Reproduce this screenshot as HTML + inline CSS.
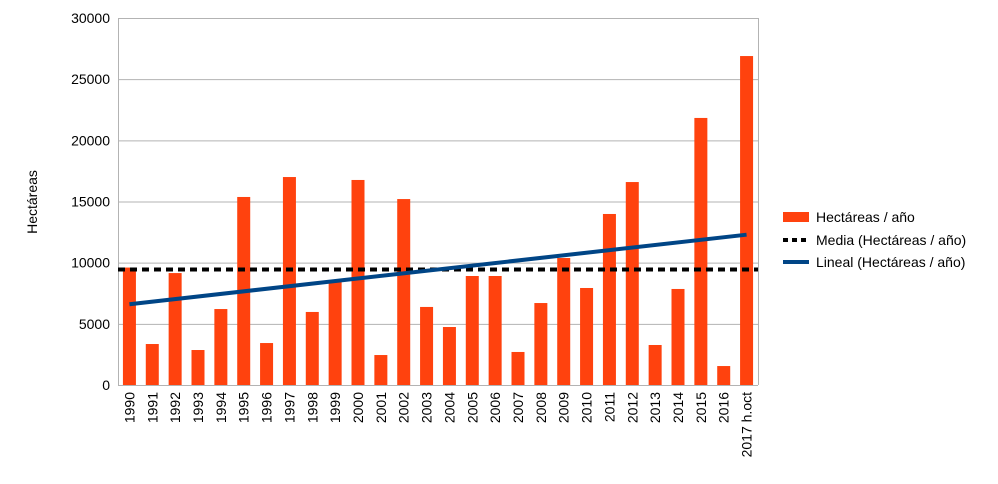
<!DOCTYPE html>
<html><head><meta charset="utf-8"><style>
body{margin:0;background:#fff;font-family:"Liberation Sans",sans-serif;}
svg text{font-family:"Liberation Sans",sans-serif;font-size:14px;fill:#000;}
</style></head><body>
<svg width="998" height="479" xmlns="http://www.w3.org/2000/svg">
<g id="grid"></g>
<g id="yticks"></g>
<g id="bars"></g>
<g id="xticks"></g>
<g id="lines"></g>
<text transform="translate(37,202) rotate(-90)" text-anchor="middle">Hectáreas</text>
<g>
<g><rect x="783" y="212" width="26" height="10" fill="#ff420e"/><text x="816" y="222">Hectáreas / año</text></g>
<g><line x1="783" y1="240" x2="809" y2="240" stroke="#000" stroke-width="4" stroke-dasharray="5,4"/><text x="816" y="245">Media (Hectáreas / año)</text></g>
<g><line x1="783" y1="262" x2="809" y2="262" stroke="#004586" stroke-width="4"/><text x="816" y="267">Lineal (Hectáreas / año)</text></g>
</g>
</svg>
<script>
const categories=["1990","1991","1992","1993","1994","1995","1996","1997","1998","1999","2000","2001","2002","2003","2004","2005","2006","2007","2008","2009","2010","2011","2012","2013","2014","2015","2016","2017 h.oct"];
const values=[9600,3350,9150,2860,6210,15370,3430,17000,5970,8500,16760,2450,15200,6380,4740,8910,8910,2700,6700,10380,7930,13980,16590,3270,7850,21830,1550,26890];
const yTicks=[0,5000,10000,15000,20000,25000,30000];
const NS="http://www.w3.org/2000/svg";
const X0=118,X1=758,Y0=385,Y1=18,YMAX=30000;
const bw=(X1-X0)/categories.length;
function y(v){return Y0-(v/YMAX)*(Y0-Y1);}
function xc(i){return X0+bw*(i+0.5);}
function mk(t,a,p){const e=document.createElementNS(NS,t);for(const k in a)e.setAttribute(k,a[k]);p.appendChild(e);return e;}
const grid=document.getElementById('grid'),yt=document.getElementById('yticks'),bars=document.getElementById('bars'),xt=document.getElementById('xticks'),lines=document.getElementById('lines');
yTicks.forEach(v=>{
 const l=mk('line',{x1:X0,x2:X1,y1:y(v)+0.5,y2:y(v)+0.5,stroke:'#b3b3b3','stroke-width':1},grid);
 
 
 const t=mk('text',{x:110,y:y(v)+5,'text-anchor':'end'},yt);t.textContent=v;
 
 
});
const ax=mk('line',{x1:X0+0.5,x2:X0+0.5,y1:Y1,y2:Y0,stroke:'#b3b3b3'},grid);


const ax2=mk('line',{x1:X1+0.5,x2:X1+0.5,y1:Y1,y2:Y0,stroke:'#b3b3b3'},grid);


categories.forEach((c,i)=>{
 const r=mk('rect',{x:xc(i)-6.5,y:y(values[i]),width:13,height:Y0-y(values[i]),fill:'#ff420e'},bars);
 
 
 const t=mk('text',{transform:`translate(${xc(i)+5},392) rotate(-90)`,'text-anchor':'end'},xt);t.textContent=c;
 
 
});
const n=values.length,mean=values.reduce((a,b)=>a+b,0)/n;
const ml=mk('line',{x1:X0,x2:X1,y1:y(mean),y2:y(mean),stroke:'#000','stroke-width':4,'stroke-dasharray':'7,5'},lines);


let sx=0,sxx=0,sxy=0;values.forEach((v,i)=>{sx+=i;sxx+=i*i;sxy+=i*v;});
const slope=(n*sxy-sx*n*mean)/(n*sxx-sx*sx),b=mean-slope*sx/n;
const tl=mk('line',{x1:xc(0),x2:xc(n-1),y1:y(b),y2:y(b+slope*(n-1)),stroke:'#004586','stroke-width':4},lines);


</script>
</body></html>
